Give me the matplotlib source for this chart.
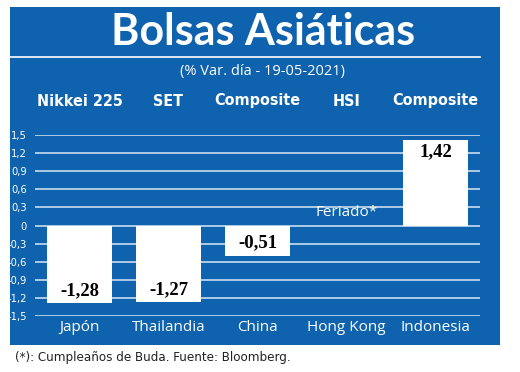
import matplotlib
matplotlib.use("Agg")
import matplotlib.pyplot as plt

countries = ["Japón", "Thailandia", "China", "Hong Kong", "Indonesia"]
indices = ["Nikkei 225", "SET", "Composite", "HSI", "Composite"]
values = [-1.28, -1.27, -0.51, None, 1.42]
labels = ["-1,28", "-1,27", "-0,51", "Feriado*", "1,42"]
yticks = [1.5, 1.2, 0.9, 0.6, 0.3, 0, -0.3, -0.6, -0.9, -1.2, -1.5]
ytick_labels = ["1,5", "1,2", "0,9", "0,6", "0,3", "0", "-0,3", "-0,6", "-0,9", "-1,2", "-1,5"]

BLUE = "#0f62ad"
W, H = 520, 372
NARROW = dict(family="DejaVu Sans", fontstretch="condensed")

fig = plt.figure(figsize=(5.2, 3.72), dpi=100)
fig.patch.set_facecolor("white")

# blue panel
bg = fig.add_axes([10 / W, 1 - 345 / H, 490 / W, 338 / H], zorder=0)
bg.set_facecolor(BLUE)
bg.set_xticks([])
bg.set_yticks([])
for s in bg.spines.values():
    s.set_visible(False)
bg.plot([0, 470 / 490], [1 - 50 / 338, 1 - 50 / 338], color="white", lw=1.2,
        transform=bg.transAxes)

fig.text(263 / W, 1 - 32 / H, "Bolsas Asiáticas", color="white", fontsize=31,
         fontweight="bold", family="Lato", ha="center", va="center")
fig.text(263 / W, 1 - 72 / H, "(% Var. día - 19-05-2021)", color="white",
         fontsize=10.5, family="Open Sans", ha="center", va="center")

ax = fig.add_axes([35 / W, 1 - 316 / H, 445 / W, 181 / H], zorder=1)
ax.set_facecolor(BLUE)
ax.set_xlim(-0.5, 4.5)
ax.set_ylim(-1.5, 1.5)
for s in ax.spines.values():
    s.set_visible(False)

for y in yticks:
    ax.axhline(y, color="#d8e8f6", lw=1.1, zorder=1)

xs = list(range(len(countries)))
for x, v, lab in zip(xs, values, labels):
    if v is None:
        ax.text(x, 0.22, lab, color="white", fontsize=11, family="Open Sans",
                ha="center", va="center", zorder=3)
        continue
    ax.bar(x, v, width=0.72, color="white", zorder=2)
    ty = v + 0.2 if v < -1 else (v / 2 - 0.03 if v < 0 else v - 0.2)
    ax.text(x, ty, lab, color="black", fontsize=13.5, fontweight="bold",
            family="Liberation Serif", ha="center", va="center", zorder=3)

ax.set_yticks(yticks)
ax.set_yticklabels(ytick_labels, color="white", fontsize=8, **NARROW)
ax.tick_params(axis="y", length=0, pad=6)
ax.set_xticks(xs)
ax.set_xticklabels(countries, color="white", fontsize=11, family="Open Sans")
ax.tick_params(axis="x", length=0, pad=3)

for x, name in zip(xs, indices):
    fig.text((35 + 89 * x + 44.5) / W, 1 - 101 / H, name, color="white",
             fontsize=11.5, fontweight="bold", ha="center", va="center", **NARROW)

fig.text(15 / W, 1 - 357 / H, "(*): Cumpleaños de Buda. Fuente: Bloomberg.",
         color="#222222", fontsize=9.5, ha="left", va="center", **NARROW)

fig.savefig("out.png", dpi=100)
